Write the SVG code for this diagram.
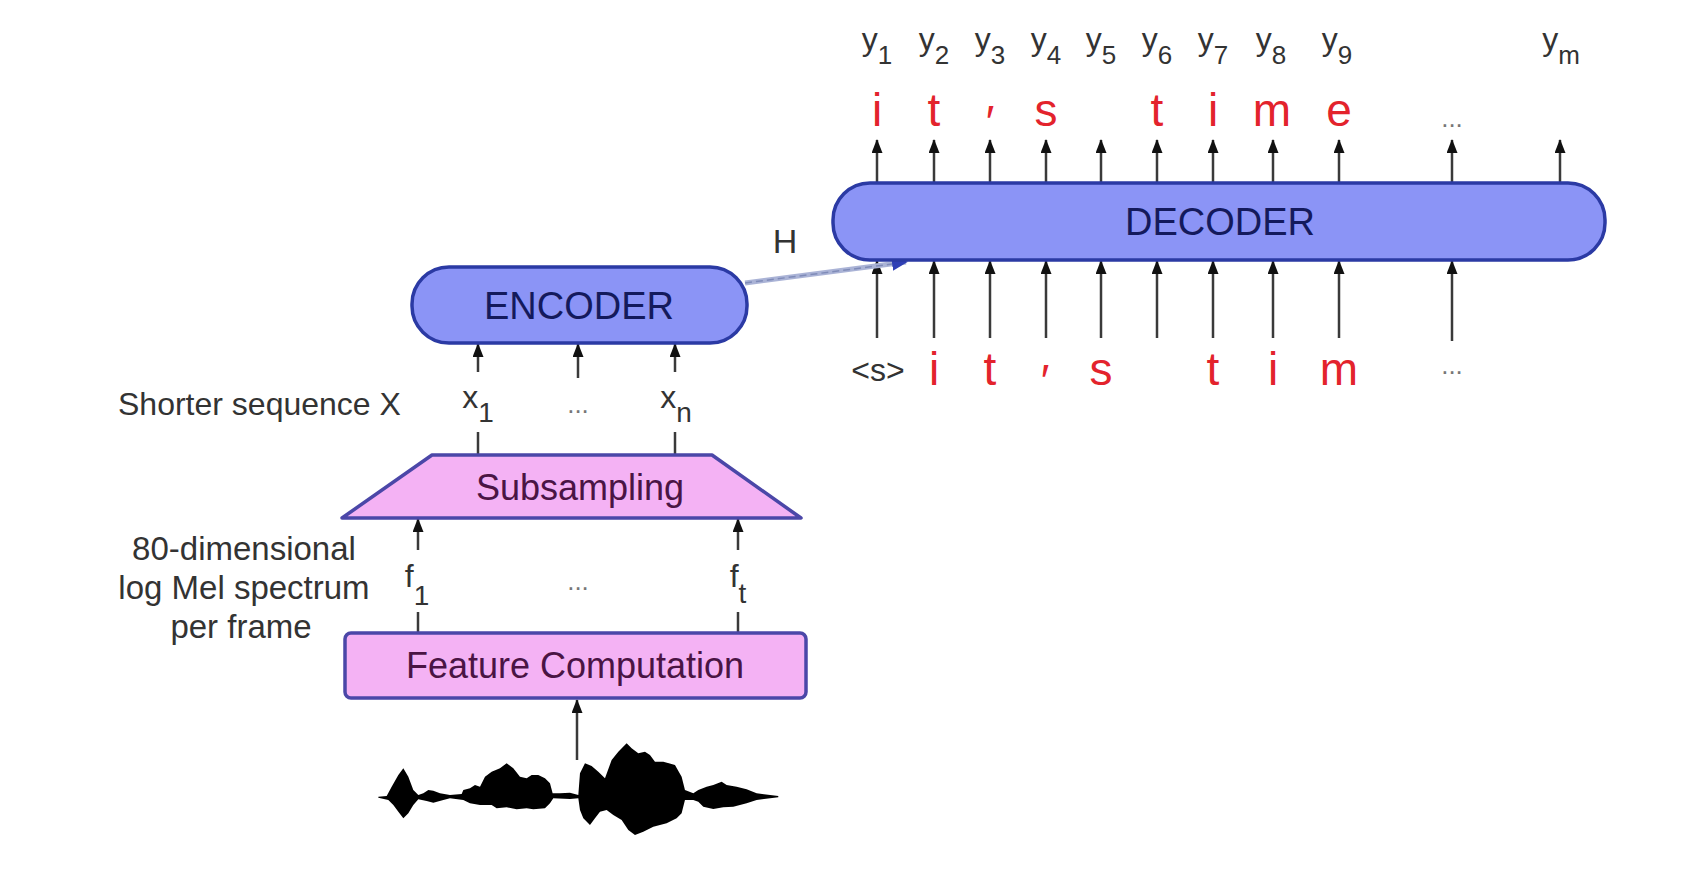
<svg xmlns="http://www.w3.org/2000/svg" width="1686" height="878" viewBox="0 0 1686 878">
<style>
.lbl{font-family:"Liberation Sans",Arial,sans-serif;fill:#333}
.red{font-family:"Liberation Sans",Arial,sans-serif;fill:#e3232c;font-size:46px;text-anchor:middle}
.dots{font-family:"Liberation Sans",Arial,sans-serif;fill:#777;font-size:26px;text-anchor:middle}
.blue{fill:#8b94f6;stroke:#2b3aa4;stroke-width:3.5}
.pink{fill:#f4b2f4;stroke:#4b47a8;stroke-width:3.5}
.btxt{font-family:"Liberation Sans",Arial,sans-serif;font-size:38px;fill:#141a5c;text-anchor:middle}
.ptxt{font-family:"Liberation Sans",Arial,sans-serif;font-size:36px;fill:#4a1444;text-anchor:middle}
.arr{stroke:#3a3a3a;stroke-width:2.5;fill:none;marker-end:url(#ah)}
.ln{stroke:#3a3a3a;stroke-width:2.5;fill:none}
</style>
<defs>
<marker id="ah" viewBox="0 0 14 11" refX="13" refY="5.5" markerWidth="14" markerHeight="11" markerUnits="userSpaceOnUse" orient="auto">
<path d="M0,0 L14,5.5 L0,11 z" fill="#111"/>
</marker>
<marker id="hb" viewBox="0 0 16 14" refX="14" refY="7" markerWidth="16" markerHeight="14" markerUnits="userSpaceOnUse" orient="auto">
<path d="M0,0 L16,7 L0,14 z" fill="#2f3fb5"/>
</marker>
</defs>
<rect width="1686" height="878" fill="#fff"/>

<g id="connectors">
<line class="arr" x1="877" y1="183" x2="877" y2="140"/>
<line class="arr" x1="934" y1="183" x2="934" y2="140"/>
<line class="arr" x1="990" y1="183" x2="990" y2="140"/>
<line class="arr" x1="1046" y1="183" x2="1046" y2="140"/>
<line class="arr" x1="1101" y1="183" x2="1101" y2="140"/>
<line class="arr" x1="1157" y1="183" x2="1157" y2="140"/>
<line class="arr" x1="1213" y1="183" x2="1213" y2="140"/>
<line class="arr" x1="1273" y1="183" x2="1273" y2="140"/>
<line class="arr" x1="1339" y1="183" x2="1339" y2="140"/>
<line class="arr" x1="1452" y1="183" x2="1452" y2="140"/>
<line class="arr" x1="1560" y1="183" x2="1560" y2="140"/>
<line class="arr" x1="877" y1="338" x2="877" y2="261"/>
<line class="arr" x1="934" y1="338" x2="934" y2="261"/>
<line class="arr" x1="990" y1="338" x2="990" y2="261"/>
<line class="arr" x1="1046" y1="338" x2="1046" y2="261"/>
<line class="arr" x1="1101" y1="338" x2="1101" y2="261"/>
<line class="arr" x1="1157" y1="338" x2="1157" y2="261"/>
<line class="arr" x1="1213" y1="338" x2="1213" y2="261"/>
<line class="arr" x1="1273" y1="338" x2="1273" y2="261"/>
<line class="arr" x1="1339" y1="338" x2="1339" y2="261"/>
<line class="arr" x1="1452" y1="341" x2="1452" y2="261"/>
<line x1="745" y1="283" x2="906" y2="262" stroke="#aab3d6" stroke-width="5" marker-end="url(#hb)"/>
<line x1="745" y1="283" x2="892" y2="264" stroke="#7f8bb8" stroke-width="1.5" stroke-dasharray="7 4"/>
<line class="arr" x1="478" y1="372" x2="478" y2="344"/>
<line class="arr" x1="578" y1="378" x2="578" y2="344"/>
<line class="arr" x1="675" y1="372" x2="675" y2="344"/>
<line class="ln" x1="478" y1="432" x2="478" y2="455"/>
<line class="ln" x1="675" y1="432" x2="675" y2="455"/>
<line class="arr" x1="418" y1="550" x2="418" y2="519"/>
<line class="arr" x1="738" y1="550" x2="738" y2="519"/>
<line class="ln" x1="418" y1="612" x2="418" y2="633"/>
<line class="ln" x1="738" y1="612" x2="738" y2="633"/>
<line class="arr" x1="577" y1="760" x2="577" y2="700"/>
</g>

<g id="outputs-y">
<text class="lbl" font-size="32" text-anchor="middle" x="877" y="50">y<tspan font-size="26" dy="14">1</tspan></text>
<text class="lbl" font-size="32" text-anchor="middle" x="934" y="50">y<tspan font-size="26" dy="14">2</tspan></text>
<text class="lbl" font-size="32" text-anchor="middle" x="990" y="50">y<tspan font-size="26" dy="14">3</tspan></text>
<text class="lbl" font-size="32" text-anchor="middle" x="1046" y="50">y<tspan font-size="26" dy="14">4</tspan></text>
<text class="lbl" font-size="32" text-anchor="middle" x="1101" y="50">y<tspan font-size="26" dy="14">5</tspan></text>
<text class="lbl" font-size="32" text-anchor="middle" x="1157" y="50">y<tspan font-size="26" dy="14">6</tspan></text>
<text class="lbl" font-size="32" text-anchor="middle" x="1213" y="50">y<tspan font-size="26" dy="14">7</tspan></text>
<text class="lbl" font-size="32" text-anchor="middle" x="1271" y="50">y<tspan font-size="26" dy="14">8</tspan></text>
<text class="lbl" font-size="32" text-anchor="middle" x="1337" y="50">y<tspan font-size="26" dy="14">9</tspan></text>
<text class="lbl" font-size="32" text-anchor="middle" x="1561" y="50">y<tspan font-size="26" dy="14">m</tspan></text>
</g>

<g id="output-tokens">
<text class="red" x="877" y="126">i</text>
<text class="red" x="934" y="126">t</text>
<text class="red" x="990" y="138">′</text>
<text class="red" x="1046" y="126">s</text>
<text class="red" x="1157" y="126">t</text>
<text class="red" x="1213" y="126">i</text>
<text class="red" x="1272" y="126">m</text>
<text class="red" x="1339" y="126">e</text>
<text class="dots" x="1452" y="127">...</text>
</g>

<g id="decoder">
<rect class="blue" x="833" y="183" width="772" height="77" rx="37" ry="37"/>
<text class="btxt" x="1220" y="235">DECODER</text>
</g>

<g id="input-tokens">
<text class="lbl" font-size="32" text-anchor="middle" x="878" y="381">&lt;s&gt;</text>
<text class="red" x="934" y="385">i</text>
<text class="red" x="990" y="385">t</text>
<text class="red" x="1045" y="397">′</text>
<text class="red" x="1101" y="385">s</text>
<text class="red" x="1213" y="385">t</text>
<text class="red" x="1273" y="385">i</text>
<text class="red" x="1339" y="385">m</text>
<text class="dots" x="1452" y="374">...</text>
</g>

<g id="h-label">
<text class="lbl" font-size="34" text-anchor="middle" x="785" y="253">H</text>
</g>

<g id="encoder">
<rect class="blue" x="412" y="267" width="335" height="76" rx="37" ry="37"/>
<text class="btxt" x="579" y="319">ENCODER</text>
</g>

<g id="x-sequence">
<text class="lbl" font-size="32" x="118" y="415">Shorter sequence X</text>
<text class="lbl" font-size="32" text-anchor="middle" x="478" y="408">x<tspan font-size="28" dy="14">1</tspan></text>
<text class="dots" x="578" y="413">...</text>
<text class="lbl" font-size="32" text-anchor="middle" x="676" y="408">x<tspan font-size="28" dy="14">n</tspan></text>
</g>

<g id="subsampling">
<path class="pink" d="M432,455 L712,455 L801,518 L342,518 Z" stroke-linejoin="round"/>
<text class="ptxt" x="580" y="500">Subsampling</text>
</g>

<g id="f-sequence">
<text class="lbl" font-size="33" text-anchor="middle" x="244" y="560">80-dimensional</text>
<text class="lbl" font-size="33" text-anchor="middle" x="244" y="599">log Mel spectrum</text>
<text class="lbl" font-size="33" text-anchor="middle" x="241" y="638">per frame</text>
<text class="lbl" font-size="32" text-anchor="middle" x="417" y="587">f<tspan font-size="28" dy="18">1</tspan></text>
<text class="dots" x="578" y="590">...</text>
<text class="lbl" font-size="32" text-anchor="middle" x="738" y="587">f<tspan font-size="28" dy="16">t</tspan></text>
</g>

<g id="feature-computation">
<rect class="pink" x="345" y="633" width="461" height="65" rx="6" ry="6"/>
<text class="ptxt" x="575" y="678">Feature Computation</text>
</g>

<g id="waveform">
<path transform="translate(360,690) scale(0.3333)" fill="#000" d="M55,320 L80,318 L95,290 L115,255 L130,235 L145,260 L160,300 L175,315 L190,310 L205,300 L220,302 L240,310 L270,315 L305,312 L310,300 L330,295 L345,285 L360,290 L375,260 L395,245 L420,235 L440,220 L460,235 L480,260 L500,265 L515,255 L535,255 L555,265 L570,280 L578,310 L600,310 L630,308 L655,315 L660,250 L675,220 L695,228 L715,245 L735,265 L755,210 L775,185 L800,160 L815,175 L835,190 L855,185 L870,195 L885,215 L910,215 L945,225 L965,260 L975,300 L1000,310 L1015,300 L1040,290 L1060,285 L1085,275 L1100,285 L1130,290 L1160,298 L1190,310 L1255,318 L1255,322 L1190,330 L1160,340 L1120,350 L1090,352 L1060,357 L1030,350 L1015,335 L1000,330 L975,330 L965,370 L950,385 L920,400 L880,410 L850,425 L825,435 L805,420 L785,390 L760,375 L740,360 L720,365 L705,385 L690,405 L670,385 L660,360 L655,325 L630,327 L580,325 L570,340 L555,355 L520,358 L500,355 L470,358 L440,352 L410,355 L395,345 L360,345 L330,340 L310,330 L270,325 L250,330 L220,338 L200,333 L175,328 L160,345 L145,370 L130,385 L115,365 L100,345 L85,330 L55,323 Z"/>
</g>
</svg>
